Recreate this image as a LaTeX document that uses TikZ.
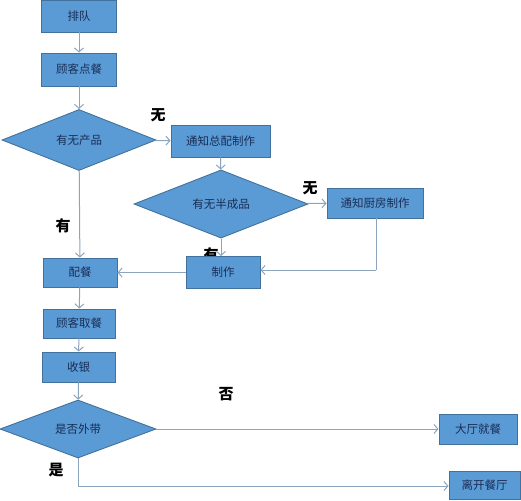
\documentclass[tikz,border=0pt]{standalone}
\usepackage{fontspec}
\setmainfont{Noto Sans CJK SC}
\usetikzlibrary{shapes.geometric,arrows.meta}
\definecolor{boxfill}{RGB}{91,155,213}
\definecolor{boxline}{RGB}{65,113,156}
\definecolor{boxtext}{RGB}{25,45,85}
\definecolor{arrowc}{RGB}{140,165,190}
\tikzset{
  pbox/.style={draw=boxline, line width=0.9pt, fill=boxfill, text=boxtext, font=\fontsize{11.5}{13}\selectfont, inner sep=0pt},
  dbox/.style={diamond, draw=boxline, line width=0.9pt, fill=boxfill, text=boxtext, font=\fontsize{11.5}{13}\selectfont, inner sep=0pt},
  conn/.style={draw=arrowc, line width=1pt, -{Straight Barb[length=4pt,width=9pt]}},
  plain/.style={draw=arrowc, line width=1pt},
  lbl/.style={font=\fontsize{15}{16}\selectfont\bfseries, text=black, inner sep=0pt}
}
\begin{document}
\begin{tikzpicture}[x=1pt,y=-1pt]
\useasboundingbox (0,0) rectangle (521,500);
\node[pbox, minimum width=75, minimum height=32] (a) at (79,16) {排队};
\node[pbox, minimum width=75, minimum height=33] (b) at (79,69.5) {顾客点餐};
\node[dbox, minimum width=154, minimum height=61] (c) at (79,140) {有无产品};
\node[pbox, minimum width=99, minimum height=32] (d) at (220.5,141) {通知总配制作};
\node[dbox, minimum width=174, minimum height=50] (e) at (221,204) {有无半成品};
\node[pbox, minimum width=96, minimum height=30] (f) at (375,203) {通知厨房制作};
\node[lbl] (l1) at (211,255) {有};
\node[pbox, minimum width=74, minimum height=32] (g) at (223,272.5) {制作};
\node[pbox, minimum width=74, minimum height=29] (h) at (80,272.5) {配餐};
\node[pbox, minimum width=72, minimum height=29] (i) at (79,323.5) {顾客取餐};
\node[pbox, minimum width=73, minimum height=30] (j) at (78.5,367) {收银};
\node[dbox, minimum width=156, minimum height=58] (k) at (78,429) {是否外带};
\node[pbox, minimum width=78, minimum height=30] (m) at (478,429) {大厅就餐};
\node[pbox, minimum width=71, minimum height=28] (n) at (484.5,485) {离开餐厅};
\node[lbl] (l2) at (158,115) {无};
\node[lbl] (l3) at (310,188) {无};
\node[lbl] (l4) at (63,226) {有};
\node[lbl] (l5) at (226,394) {否};
\node[lbl] (l6) at (56,470) {是};
\coordinate (p1) at (376,270);
\coordinate (p2) at (78,486);
\draw[conn] (a) -- (b);
\draw[conn] (b) -- (c);
\draw[conn] (c) -- (d);
\draw[conn] (d) -- (e);
\draw[conn] (e) -- (f);
\draw[conn] (e.south) -- (e.south |- g.north);
\draw[plain] (f.south -| p1) -- (p1);
\draw[conn] (p1) -- (g.east |- p1);
\draw[conn] (g) -- (h);
\draw[conn] (c) -- (h);
\draw[conn] (h) -- (i);
\draw[conn] (i) -- (j);
\draw[conn] (j) -- (k);
\draw[conn] (k) -- (m);
\draw[conn] (k.south) -- (p2) -- (n.west |- p2);
\end{tikzpicture}
\end{document}
